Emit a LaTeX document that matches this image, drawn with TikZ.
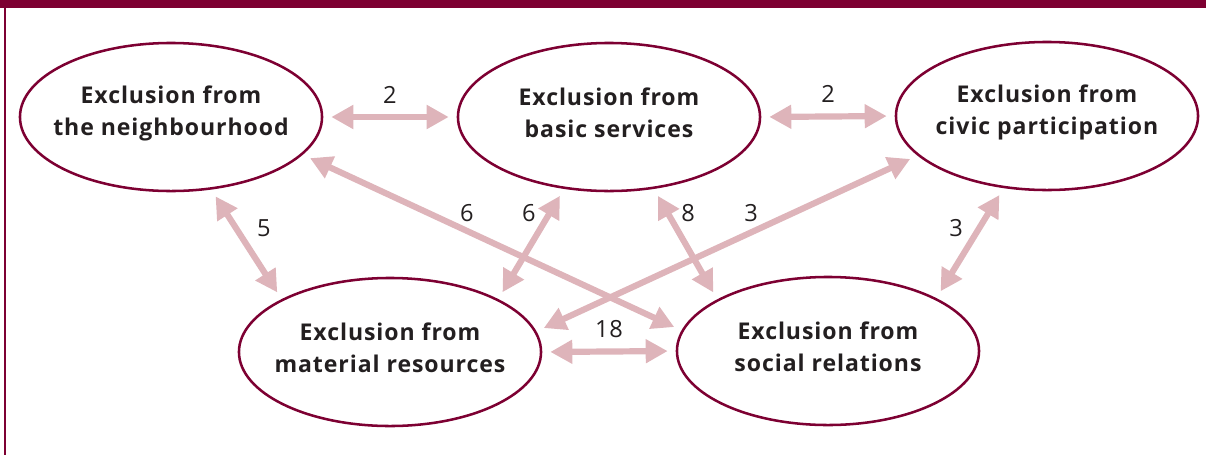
\documentclass[tikz,border=0pt]{standalone}
\usepackage{fontspec}
\setmainfont{Open Sans}[LetterSpace=4]
\usetikzlibrary{arrows.meta,shapes.geometric}
\definecolor{claret}{HTML}{7D0032}
\definecolor{rosy}{HTML}{DEB4BA}
\definecolor{ink}{HTML}{231F20}
\tikzset{
  exclbox/.style={ellipse, draw=claret, line width=1.8pt, minimum width=7.55cm, minimum height=3.7cm, inner sep=0pt},
  elltext/.style={inner sep=0pt, align=center, text=ink, yshift=0.1cm, font=\fontsize{16.4}{22.7}\selectfont\bfseries},
  link/.style={draw=rosy, line width=0.155cm, {Triangle[length=0.55cm,width=0.57cm]}-{Triangle[length=0.55cm,width=0.57cm]},
    shorten <=0.2cm, shorten >=0.2cm},
  count/.style={inner sep=0pt, text=ink, font=\fontsize{16.8}{19}\selectfont}
}
\begin{document}
\begin{tikzpicture}[x=0.025cm,y=-0.025cm]
\useasboundingbox (0,0) rectangle (1206,455);
%FRAME
\fill[claret] (0,0) rectangle (1206,8);
\draw[claret,line width=0.05cm] (5,8) -- (5,455);

%TOP ROW
\node[exclbox, label={[elltext]center:{Exclusion from\\the neighbourhood}}] (neigh) at (171,117) {};
\node[exclbox, label={[elltext]center:{Exclusion from\\basic services}}] (basic) at (609,117) {};
\node[exclbox, label={[elltext]center:{Exclusion from\\civic participation}}] (civic) at (1047,116) {};
%BOTTOM ROW
\node[exclbox, label={[elltext]center:{Exclusion from\\material resources}}] (mater) at (390,352) {};
\node[exclbox, label={[elltext]center:{Exclusion from\\social relations}}] (social) at (828,351) {};

%LINKS
\draw[link] (neigh.0) -- node[count,above=0.27cm] (nNB) {2} (basic.180);
\draw[link] (basic.0) -- node[count,above=0.27cm] (nBC) {2} (civic.180);
\draw[link] (mater.0) -- node[count,above=0.27cm] (nMS) {18} (social.180);
\draw[link] (neigh.-61) -- (mater.154);
\draw[link] (neigh.-16) -- (social.172);
\draw[link] (basic.-122) -- (mater.26);
\draw[link] (basic.-58) -- (social.155);
\draw[link] (civic.-163) -- (mater.8.5);
\draw[link] (civic.-121) -- (social.26);

%COUNTS
\node[count] (nNM) at (264,228) {5};
\node[count] (nNS) at (467,213) {6};
\node[count] (nBM) at (529,213) {6};
\node[count] (nBS) at (688,213) {8};
\node[count] (nCM) at (751,213) {3};
\node[count] (nCS) at (956,228) {3};
\end{tikzpicture}
\end{document}
